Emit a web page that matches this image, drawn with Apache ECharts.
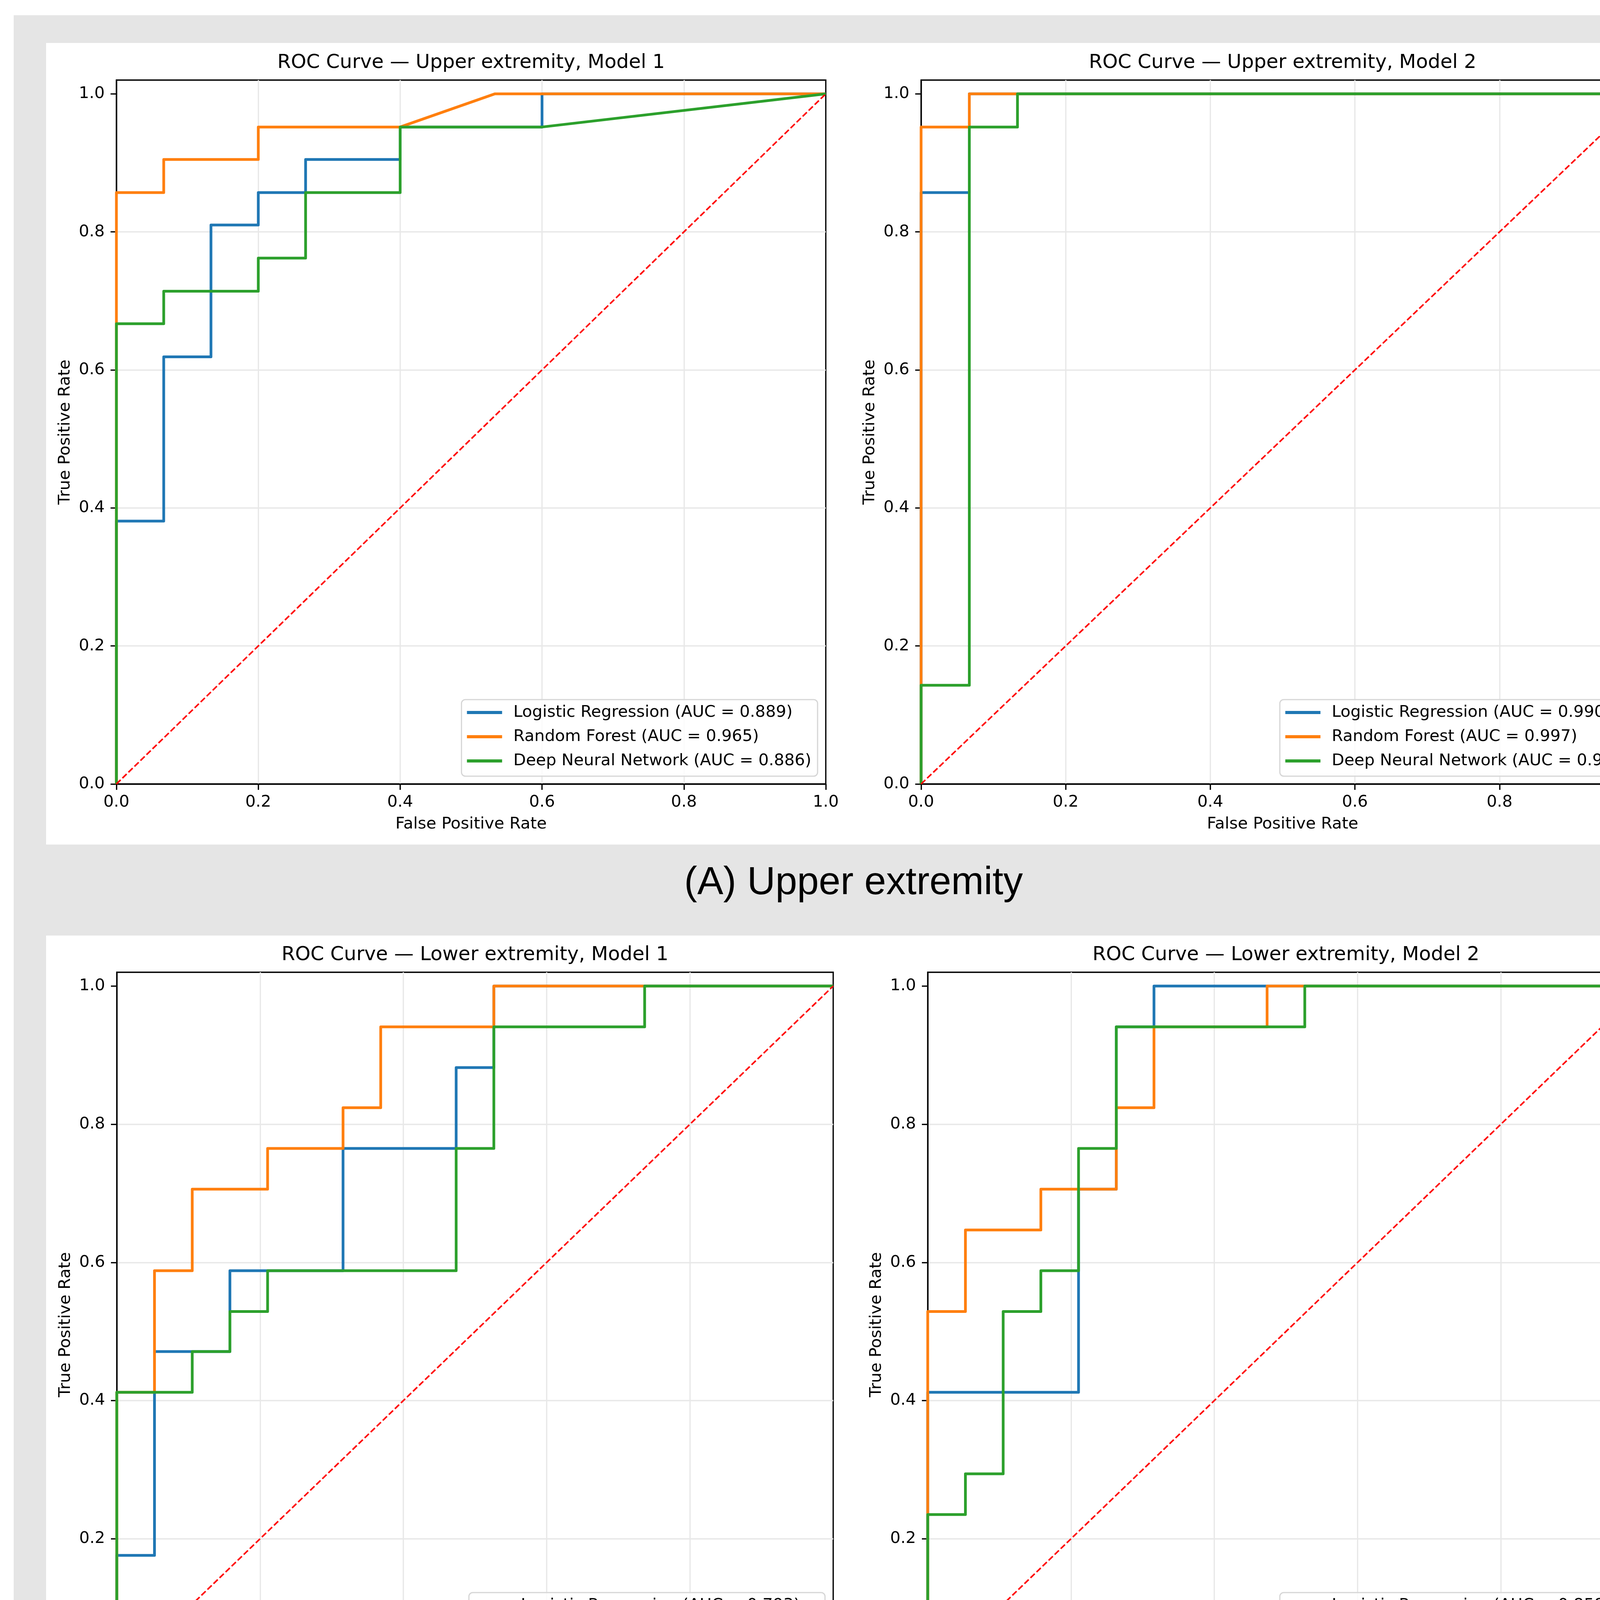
<!DOCTYPE html>
<html>
<head>
<meta charset="utf-8">
<title>ROC curves - upper and lower extremity</title>
<script src="https://cdn.jsdelivr.net/npm/echarts@6.0.0/dist/echarts.min.js"></script>
<style>
  html, body { margin: 0; padding: 0; background: #ffffff; }
  #chart { width: 4370px; height: 4713px; }
</style>
</head>
<body>
<div id="chart"></div>
<script>
// ---- data (fpr / tpr corner points of each ROC curve) ----
const MODEL_NAMES = ['Logistic Regression', 'Random Forest', 'Deep Neural Network'];
const PANEL_TITLES = [
  'ROC Curve — Upper extremity, Model 1',
  'ROC Curve — Upper extremity, Model 2',
  'ROC Curve — Lower extremity, Model 1',
  'ROC Curve — Lower extremity, Model 2'
];
const SECTION_LABELS = ['(A) Upper extremity', '(B) Lower extremity'];
const TICKS = [0, 0.2, 0.4, 0.6, 0.8, 1.0];
const CHANCE_X = [0, 1];
const CHANCE_Y = [0, 1];

const AUC_UPPER_M1 = [0.889, 0.965, 0.886];
const AUC_UPPER_M2 = [0.990, 0.997, 0.940];
const AUC_LOWER_M1 = [0.793, 0.873, 0.752];
const AUC_LOWER_M2 = [0.858, 0.889, 0.848];

// Upper extremity, Model 1
const UPPER_M1_LR_FPR  = [0, 0, 0.0667, 0.0667, 0.1333, 0.1333, 0.2, 0.2, 0.2667, 0.2667, 0.4, 0.4, 0.6, 0.6, 1];
const UPPER_M1_LR_TPR  = [0, 0.381, 0.381, 0.619, 0.619, 0.810, 0.810, 0.857, 0.857, 0.905, 0.905, 0.952, 0.952, 1, 1];
const UPPER_M1_RF_FPR  = [0, 0, 0.0667, 0.0667, 0.2, 0.2, 0.4, 0.5333, 1];
const UPPER_M1_RF_TPR  = [0, 0.857, 0.857, 0.905, 0.905, 0.952, 0.952, 1, 1];
const UPPER_M1_DNN_FPR = [0, 0, 0.0667, 0.0667, 0.2, 0.2, 0.2667, 0.2667, 0.4, 0.4, 0.6, 1];
const UPPER_M1_DNN_TPR = [0, 0.667, 0.667, 0.714, 0.714, 0.762, 0.762, 0.857, 0.857, 0.952, 0.952, 1];

// Upper extremity, Model 2
const UPPER_M2_LR_FPR  = [0, 0, 0.0667, 0.0667, 1];
const UPPER_M2_LR_TPR  = [0, 0.857, 0.857, 1, 1];
const UPPER_M2_RF_FPR  = [0, 0, 0.0667, 0.0667, 1];
const UPPER_M2_RF_TPR  = [0, 0.952, 0.952, 1, 1];
const UPPER_M2_DNN_FPR = [0, 0, 0.0667, 0.0667, 0.1333, 0.1333, 1];
const UPPER_M2_DNN_TPR = [0, 0.143, 0.143, 0.952, 0.952, 1, 1];

// Lower extremity, Model 1
const LOWER_M1_LR_FPR  = [0, 0, 0.0526, 0.0526, 0.1579, 0.1579, 0.3158, 0.3158, 0.4737, 0.4737, 0.5263, 0.5263, 1];
const LOWER_M1_LR_TPR  = [0, 0.176, 0.176, 0.471, 0.471, 0.588, 0.588, 0.765, 0.765, 0.882, 0.882, 1, 1];
const LOWER_M1_RF_FPR  = [0, 0, 0.0526, 0.0526, 0.1053, 0.1053, 0.2105, 0.2105, 0.3158, 0.3158, 0.3684, 0.3684, 0.5263, 0.5263, 1];
const LOWER_M1_RF_TPR  = [0, 0.412, 0.412, 0.588, 0.588, 0.706, 0.706, 0.765, 0.765, 0.824, 0.824, 0.941, 0.941, 1, 1];
const LOWER_M1_DNN_FPR = [0, 0, 0.1053, 0.1053, 0.1579, 0.1579, 0.2105, 0.2105, 0.4737, 0.4737, 0.5263, 0.5263, 0.7368, 0.7368, 1];
const LOWER_M1_DNN_TPR = [0, 0.412, 0.412, 0.471, 0.471, 0.529, 0.529, 0.588, 0.588, 0.765, 0.765, 0.941, 0.941, 1, 1];

// Lower extremity, Model 2
const LOWER_M2_LR_FPR  = [0, 0, 0.2105, 0.2105, 0.2632, 0.2632, 0.3158, 0.3158, 1];
const LOWER_M2_LR_TPR  = [0, 0.412, 0.412, 0.706, 0.706, 0.941, 0.941, 1, 1];
const LOWER_M2_RF_FPR  = [0, 0, 0.0526, 0.0526, 0.1579, 0.1579, 0.2632, 0.2632, 0.3158, 0.3158, 0.4737, 0.4737, 1];
const LOWER_M2_RF_TPR  = [0, 0.529, 0.529, 0.647, 0.647, 0.706, 0.706, 0.824, 0.824, 0.941, 0.941, 1, 1];
const LOWER_M2_DNN_FPR = [0, 0, 0.0526, 0.0526, 0.1053, 0.1053, 0.1579, 0.1579, 0.2105, 0.2105, 0.2632, 0.2632, 0.5263, 0.5263, 1];
const LOWER_M2_DNN_TPR = [0, 0.235, 0.235, 0.294, 0.294, 0.529, 0.529, 0.588, 0.588, 0.765, 0.765, 0.941, 0.941, 1, 1];

// ---- styling / layout ----
const CURVE_COLORS = ['#1f77b4', '#ff7f0e', '#2ca02c'];
const FONT         = '"DejaVu Sans", Verdana, sans-serif';
const LABEL_FONT   = '"Liberation Sans", Arial, Helvetica, sans-serif';
const PAGE_W = 4370;
const PAGE_H = 4713;

const panels = [
  { box: { left: 298,  top: 205,  width: 1816, height: 1802 }, auc: AUC_UPPER_M1,
    curves: [[UPPER_M1_LR_FPR, UPPER_M1_LR_TPR], [UPPER_M1_RF_FPR, UPPER_M1_RF_TPR], [UPPER_M1_DNN_FPR, UPPER_M1_DNN_TPR]] },
  { box: { left: 2358, top: 205,  width: 1851, height: 1802 }, auc: AUC_UPPER_M2,
    curves: [[UPPER_M2_LR_FPR, UPPER_M2_LR_TPR], [UPPER_M2_RF_FPR, UPPER_M2_RF_TPR], [UPPER_M2_DNN_FPR, UPPER_M2_DNN_TPR]] },
  { box: { left: 299,  top: 2489, width: 1834, height: 1804 }, auc: AUC_LOWER_M1,
    curves: [[LOWER_M1_LR_FPR, LOWER_M1_LR_TPR], [LOWER_M1_RF_FPR, LOWER_M1_RF_TPR], [LOWER_M1_DNN_FPR, LOWER_M1_DNN_TPR]] },
  { box: { left: 2375, top: 2489, width: 1834, height: 1804 }, auc: AUC_LOWER_M2,
    curves: [[LOWER_M2_LR_FPR, LOWER_M2_LR_TPR], [LOWER_M2_RF_FPR, LOWER_M2_RF_TPR], [LOWER_M2_DNN_FPR, LOWER_M2_DNN_TPR]] }
];

const grids = [], xAxes = [], yAxes = [], series = [], legends = [], titles = [];

panels.forEach((p, i) => {
  const b = p.box;
  grids.push({
    left: b.left, top: b.top, width: b.width, height: b.height,
    show: true, borderColor: '#000000', borderWidth: 3.3, containLabel: false
  });

  const tickCommon = {
    axisLine:  { show: true, lineStyle: { color: '#000000', width: 3.3 } },
    axisTick:  { show: true, length: 15, lineStyle: { color: '#000000', width: 3.3 } },
    splitLine: { show: true, showMinLine: false, showMaxLine: false,
                 lineStyle: { color: '#e8e8e8', width: 3.3 } },
    nameLocation: 'middle',
    nameTextStyle: { fontFamily: FONT, fontSize: 41.7, color: '#000000' }
  };

  xAxes.push({
    ...tickCommon,
    type: 'value', gridIndex: i, min: 0, max: 1, interval: 0.2,
    name: 'False Positive Rate', nameGap: 82,
    axisLabel: { margin: 26, fontFamily: FONT, fontSize: 41.7, color: '#000000',
                 formatter: v => v.toFixed(1) }
  });

  yAxes.push({
    ...tickCommon,
    type: 'value', gridIndex: i, min: 0, max: 1.02, interval: 0.2,
    name: 'True Positive Rate', nameGap: 110,
    axisTick:  { ...tickCommon.axisTick, customValues: TICKS },
    axisLabel: { margin: 30, fontFamily: FONT, fontSize: 41.7, color: '#000000',
                 customValues: TICKS, formatter: v => v.toFixed(1) }
  });

  const names = [];
  p.curves.forEach(([fpr, tpr], k) => {
    const name = `${MODEL_NAMES[k]} (AUC = ${p.auc[k].toFixed(3)})`;
    names.push(name);
    series.push({
      type: 'line', name, xAxisIndex: i, yAxisIndex: i,
      data: fpr.map((x, j) => [x, tpr[j]]),
      symbol: 'none', showSymbol: false, silent: true, animation: false,
      color: CURVE_COLORS[k],
      itemStyle: { color: CURVE_COLORS[k] },
      lineStyle: { color: CURVE_COLORS[k], width: 7, join: 'round' },
      z: 3
    });
  });

  // chance line
  series.push({
    type: 'line', name: 'Chance ' + (i + 1), xAxisIndex: i, yAxisIndex: i,
    data: CHANCE_X.map((x, j) => [x, CHANCE_Y[j]]),
    symbol: 'none', showSymbol: false, silent: true, animation: false,
    lineStyle: { color: '#ff0000', width: 4, type: [15, 6.5] },
    z: 4
  });

  legends.push({
    orient: 'vertical', align: 'left',
    right: PAGE_W - (b.left + b.width - 21),
    bottom: PAGE_H - (b.top + b.height - 20),
    data: names, icon: 'rect', itemWidth: 90, itemHeight: 8, itemGap: 20,
    padding: [12, 16, 18, 14],
    backgroundColor: 'rgba(255,255,255,0.8)',
    borderColor: '#d6d6d6', borderWidth: 3, borderRadius: 10,
    itemStyle: { borderWidth: 0 },
    textStyle: { fontFamily: FONT, fontSize: 41.7, color: '#000000', lineHeight: 42,
                 padding: [0, 0, 0, 24] },
    selectedMode: false
  });

  titles.push({
    text: PANEL_TITLES[i],
    left: b.left + b.width / 2, top: b.top - 74, textAlign: 'center', padding: 0,
    textStyle: { fontFamily: FONT, fontSize: 50, fontWeight: 'normal', color: '#000000', lineHeight: 60 }
  });
});

// section captions under each row
titles.push({
  text: SECTION_LABELS[0], left: 2185, top: 2201, textAlign: 'center', padding: 0,
  textStyle: { fontFamily: LABEL_FONT, fontSize: 100, fontWeight: 'normal', color: '#000000', lineHeight: 120 }
});
titles.push({
  text: SECTION_LABELS[1], left: 2185, top: 4509, textAlign: 'center', padding: 0,
  textStyle: { fontFamily: LABEL_FONT, fontSize: 100, fontWeight: 'normal', color: '#000000', lineHeight: 120 }
});

const chart = echarts.init(document.getElementById('chart'), null, { renderer: 'canvas', width: PAGE_W, height: PAGE_H });

chart.setOption({
  backgroundColor: '#ffffff',
  animation: false,
  graphic: [
    { type: 'rect', z: -20, silent: true, shape: { x: 35,  y: 39,   width: 4292, height: 4648 }, style: { fill: '#e5e5e5' } },
    { type: 'rect', z: -19, silent: true, shape: { x: 118, y: 110,  width: 4152, height: 2052 }, style: { fill: '#ffffff' } },
    { type: 'rect', z: -19, silent: true, shape: { x: 118, y: 2395, width: 4153, height: 2054 }, style: { fill: '#ffffff' } }
  ],
  title: titles,
  legend: legends,
  grid: grids,
  xAxis: xAxes,
  yAxis: yAxes,
  series: series
});
</script>
</body>
</html>
